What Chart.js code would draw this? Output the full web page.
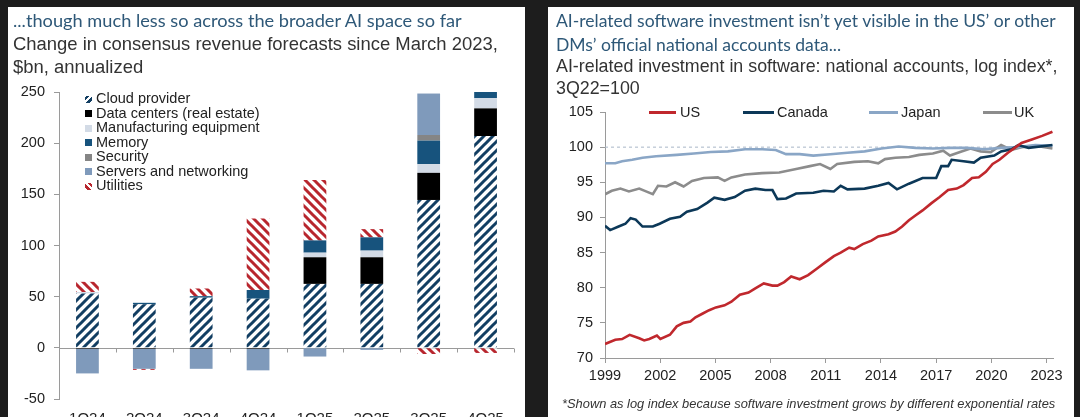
<!DOCTYPE html>
<html><head><meta charset="utf-8">
<script src="https://cdn.jsdelivr.net/npm/chart.js@4.4.1/dist/chart.umd.min.js"></script>
<style>
html,body{margin:0;padding:0;width:1080px;height:417px;overflow:hidden;background:#1d1d1d;}
.panel{position:absolute;background:#fff;}
#pl{left:8px;top:7px;width:517px;height:420px;}
#pr{left:548px;top:7px;width:526px;height:420px;}
.t{position:absolute;white-space:nowrap;line-height:1;}
.h{font-family:Lato,"Open Sans",sans-serif;color:#2e5878;}
.s{font-family:"Liberation Sans",Arial,sans-serif;color:#333;}
.f{font-family:"Liberation Sans",Arial,sans-serif;color:#333;font-style:italic;}
.lg{position:absolute;font-family:"Liberation Sans",Arial,sans-serif;font-size:14.5px;line-height:1;color:#222;white-space:nowrap;}
.mk{position:absolute;}
canvas{position:absolute;}
</style></head>
<body>
<div class="panel" id="pl"></div>
<div class="panel" id="pr"></div>
<canvas id="cl" width="517" height="417" style="left:8px;top:0px;width:517px;height:417px"></canvas>
<canvas id="cr" width="526" height="417" style="left:548px;top:0px;width:526px;height:417px"></canvas>
<div id="texts"></div>
<script>
// ---------- LEFT CHART DATA ----------
const quarters = ['1Q24','2Q24','3Q24','4Q24','1Q25','2Q25','3Q25','4Q25'];
const seriesNames = ['Cloud provider','Data centers (real estate)','Manufacturing equipment','Memory','Security','Servers and networking','Utilities'];
const cloudProvider = [53, 42.5, 49, 48, 62.5, 62.5, 144.5, 207];
const dataCenters   = [-1, -1, -1, -1, 26, 26, 26.5, 27];
const manufacturing = [1.5, 0, 0, 0, 4.5, 6.5, 8.5, 10];
const memory        = [0, 1.5, 1.5, 8.5, 12, 13, 23, 7];
const security      = [0, 0, 0, 0, 0, 0, 5.5, 0];
const servers       = [-24, -19.5, -19.5, -21, -8.5, -2, 40.5, 0];
const utilities     = [10, -1, 7.5, 70, 59, 8, -6, -5];
const leftTicks = [-50, 0, 50, 100, 150, 200, 250];

// ---------- RIGHT CHART DATA ([year, log index]) ----------
const usData = [[1999.00,72.0],[1999.56,72.6],[1999.93,72.7],[2000.34,73.3],[2000.86,72.8],[2001.13,72.5],[2001.41,72.7],[2001.82,73.2],[2002.01,72.7],[2002.53,73.3],[2002.90,74.5],[2003.27,75.0],[2003.64,75.2],[2003.92,75.8],[2004.29,76.3],[2004.66,76.8],[2005.03,77.2],[2005.50,77.5],[2005.87,78.0],[2006.33,79.0],[2006.80,79.3],[2007.17,79.9],[2007.63,80.6],[2008.10,80.3],[2008.37,80.3],[2008.74,80.8],[2009.12,81.6],[2009.58,81.2],[2010.04,81.8],[2010.51,82.7],[2010.97,83.6],[2011.44,84.5],[2011.81,85.0],[2012.27,85.7],[2012.55,85.5],[2013.01,86.2],[2013.48,86.7],[2013.85,87.3],[2014.41,87.6],[2014.78,88.0],[2015.15,88.7],[2015.52,89.6],[2015.89,90.3],[2016.26,91.0],[2016.73,92.0],[2017.19,92.9],[2017.65,93.9],[2018.12,94.1],[2018.49,94.6],[2018.95,95.6],[2019.32,95.7],[2019.70,96.5],[2020.07,97.6],[2020.44,98.2],[2020.90,99.2],[2021.27,99.9],[2021.64,100.6],[2022.20,101.1],[2022.76,101.6],[2023.32,102.2]];
const canadaData = [[1999.00,88.8],[1999.28,88.2],[1999.74,88.7],[2000.11,89.1],[2000.39,89.9],[2000.67,89.7],[2001.04,88.7],[2001.60,88.7],[2001.97,89.1],[2002.53,89.8],[2003.08,90.1],[2003.45,90.8],[2004.01,91.2],[2004.57,92.1],[2004.94,92.8],[2005.50,92.5],[2006.05,92.9],[2006.61,93.8],[2007.17,94.1],[2007.72,93.9],[2008.10,93.9],[2008.37,92.6],[2008.84,92.7],[2009.39,93.4],[2010.32,93.5],[2010.88,93.8],[2011.44,93.7],[2011.81,94.5],[2012.18,94.0],[2013.11,94.1],[2013.85,94.5],[2014.41,94.9],[2014.87,94.0],[2015.52,94.8],[2016.26,95.6],[2017.00,95.6],[2017.28,97.3],[2017.65,97.3],[2017.84,98.2],[2018.49,98.0],[2019.05,97.8],[2019.42,98.5],[2020.16,98.8],[2020.53,99.4],[2021.09,99.7],[2021.46,100.3],[2022.02,99.9],[2023.32,100.3]];
const japanData = [[1999.00,97.7],[1999.56,97.7],[1999.93,98.0],[2000.48,98.2],[2001.04,98.5],[2001.78,98.7],[2002.90,98.9],[2003.83,99.1],[2004.75,99.3],[2005.68,99.4],[2006.61,99.7],[2007.54,99.7],[2008.28,99.6],[2008.84,99.0],[2009.58,99.0],[2010.32,98.8],[2011.25,99.0],[2012.18,99.2],[2013.11,99.4],[2014.03,99.8],[2014.96,100.1],[2015.89,99.9],[2016.82,99.8],[2017.75,99.9],[2018.68,99.9],[2019.60,99.7],[2020.53,99.9],[2021.46,100.0],[2022.39,100.3],[2023.32,100.2]];
const ukData = [[1999.00,93.3],[1999.37,93.8],[1999.84,94.1],[2000.30,93.7],[2000.86,94.1],[2001.23,93.7],[2001.60,93.3],[2001.88,94.5],[2002.34,94.4],[2002.81,95.0],[2003.27,94.4],[2003.73,95.2],[2004.38,95.6],[2005.13,95.7],[2005.50,95.2],[2005.87,95.7],[2006.61,96.1],[2007.54,96.3],[2008.47,96.4],[2009.39,96.9],[2010.14,97.3],[2010.69,97.6],[2011.25,96.9],[2011.62,97.6],[2012.55,97.9],[2013.29,98.0],[2013.85,97.7],[2014.22,98.3],[2014.78,98.5],[2015.52,98.6],[2016.08,98.9],[2016.82,99.1],[2017.38,99.5],[2017.75,98.8],[2018.30,99.3],[2018.86,99.8],[2019.42,99.4],[2019.97,99.3],[2020.53,100.3],[2021.09,99.6],[2021.64,100.0],[2022.39,100.2],[2023.32,99.8]];
const baseLine = [[1999.00,100],[2023.32,100]];
const yearTicks = [1999, 2002, 2005, 2008, 2011, 2014, 2017, 2020, 2023];
const rightTicks = [70, 75, 80, 85, 90, 95, 100, 105];
const lineNames = ['US','Canada','Japan','UK'];

// ---------- STYLE ----------
const NAVY = '#123e62', RED = '#b8262e';
const colMemory = '#17537d', colServers = '#7f9abb', colManuf = '#d3dbe6', colSecurity = '#858585', colDC = '#000000';
const lineColors = ['#c0282d', '#0c3858', '#8aa6c6', '#8c8c8c'];
const SANS = '"Liberation Sans", Arial, sans-serif';

function hatch(ctx, color, forward) {
  const s = 9, c = document.createElement('canvas');
  c.width = c.height = s;
  const g = c.getContext('2d');
  g.fillStyle = '#fff'; g.fillRect(0, 0, s, s);
  g.strokeStyle = color; g.lineWidth = 3; g.beginPath();
  if (forward) { for (const k of [0, 1, 2]) { const cc = k * s; g.moveTo(-s, cc + s); g.lineTo(2 * s, cc - 2 * s); } }
  else { for (const k of [-1, 0, 1]) { const cc = k * s; g.moveTo(-s, cc - s); g.lineTo(2 * s, cc + 2 * s); } }
  g.stroke();
  return ctx.createPattern(c, 'repeat');
}

// ---------- TEXTS ----------
const texts = [
  {id:'lt1', cls:'h', x:13, cy:21, w:449, s:"...though much less so across the broader AI space so far"},
  {id:'ls1', cls:'s', x:13, cy:45, w:485, s:"Change in consensus revenue forecasts since March 2023,"},
  {id:'ls2', cls:'s', x:13, cy:68, ref:'ls1', s:"$bn, annualized"},
  {id:'rt1', cls:'h', x:556, cy:21, w:500, s:"AI-related software investment isn\u2019t yet visible in the US\u2019 or other"},
  {id:'rt2', cls:'h', x:556, cy:45, ref:'rt1', s:"DMs\u2019 official national accounts data..."},
  {id:'rs1', cls:'s', x:556, cy:68, w:502, s:"AI-related investment in software: national accounts, log index*,"},
  {id:'rs2', cls:'s', x:556, cy:90, ref:'rs1', s:"3Q22=100"},
  {id:'rf1', cls:'f', x:562, cy:405, w:494, s:"*Shown as log index because software investment grows by different exponential rates"}
];
const host = document.getElementById('texts');
const sizes = {};
for (const t of texts) {
  const el = document.createElement('div');
  el.className = 't ' + t.cls; el.textContent = t.s;
  el.style.left = t.x + 'px'; el.style.fontSize = '20px';
  host.appendChild(el);
  let fs;
  if (t.ref) fs = sizes[t.ref];
  else { const w = el.getBoundingClientRect().width; fs = 20 * t.w / w; }
  sizes[t.id] = fs;
  el.style.fontSize = fs + 'px';
  el.style.top = (t.cy - 0.54 * fs) + 'px';
}

// left legend (HTML)
const legendRowsY = [99, 113.5, 128, 142.5, 157, 171.5, 186];
const markerCss = [
  'background:repeating-linear-gradient(-45deg,#fff 0 2px,' + NAVY + ' 2px 4.5px)',
  'background:' + colDC, 'background:' + colManuf, 'background:' + colMemory,
  'background:' + colSecurity, 'background:' + colServers,
  'background:repeating-linear-gradient(45deg,#fff 0 2px,' + RED + ' 2px 4.5px)'
];
seriesNames.forEach((n, i) => {
  const m = document.createElement('div'); m.className = 'mk';
  m.style.cssText = 'left:85px;top:' + (legendRowsY[i] - 3.5) + 'px;width:7px;height:7px;' + markerCss[i];
  host.appendChild(m);
  const l = document.createElement('div'); l.className = 'lg'; l.textContent = n;
  l.style.left = '96px'; l.style.top = (legendRowsY[i] - 7.8) + 'px';
  host.appendChild(l);
});
// right legend (HTML)
const rLegX = [[649, 676, 680], [743, 774, 777], [869, 898, 901], [983, 1012, 1014]];
lineNames.forEach((n, i) => {
  const m = document.createElement('div'); m.className = 'mk';
  m.style.cssText = 'left:' + rLegX[i][0] + 'px;top:111px;width:' + (rLegX[i][1] - rLegX[i][0]) + 'px;height:3px;background:' + lineColors[i];
  host.appendChild(m);
  const l = document.createElement('div'); l.className = 'lg'; l.textContent = n;
  l.style.left = rLegX[i][2] + 'px'; l.style.top = (112.5 - 7.8) + 'px';
  host.appendChild(l);
});

// ---------- LEFT CHART ----------
const cl = document.getElementById('cl').getContext('2d');
const zeroAxis = {
  id: 'zeroAxis',
  beforeDatasetsDraw(chart) {
    const {ctx, chartArea, scales: {x, y}} = chart;
    const y0 = Math.round(y.getPixelForValue(0)) + 0.5;
    ctx.save(); ctx.strokeStyle = '#9a9a9a'; ctx.lineWidth = 1;
    ctx.beginPath(); ctx.moveTo(chartArea.left, y0); ctx.lineTo(chartArea.right, y0);
    const half = (x.getPixelForValue(1) - x.getPixelForValue(0)) / 2;
    for (let i = 0; i < quarters.length; i++) {
      const bx = Math.round(x.getPixelForValue(i) + half) + 0.5;
      ctx.moveTo(bx, y0); ctx.lineTo(bx, y0 + 4);
    }
    ctx.stroke(); ctx.restore();
  },
  afterDraw(chart) {
    // category labels, placed just below the plot (partly cut by the window edge, as in the original)
    const {ctx, chartArea, scales: {x}} = chart;
    ctx.save();
    ctx.font = '15px ' + SANS; ctx.fillStyle = '#222';
    ctx.textAlign = 'center'; ctx.textBaseline = 'middle';
    quarters.forEach((q, i) => ctx.fillText(q, x.getPixelForValue(i), chartArea.bottom + 20));
    ctx.restore();
  }
};
new Chart(cl, {
  type: 'bar',
  data: {
    labels: quarters,
    datasets: [
      {label: seriesNames[0], data: cloudProvider, backgroundColor: hatch(cl, NAVY, true)},
      {label: seriesNames[1], data: dataCenters, backgroundColor: colDC},
      {label: seriesNames[2], data: manufacturing, backgroundColor: colManuf},
      {label: seriesNames[3], data: memory, backgroundColor: colMemory},
      {label: seriesNames[4], data: security, backgroundColor: colSecurity},
      {label: seriesNames[5], data: servers, backgroundColor: colServers},
      {label: seriesNames[6], data: utilities, backgroundColor: hatch(cl, RED, false)}
    ]
  },
  options: {
    responsive: false, animation: false, devicePixelRatio: 1,
    layout: {padding: {top: 92, right: 11, left: 0, bottom: 0}},
    plugins: {legend: {display: false}, tooltip: {enabled: false}},
    datasets: {bar: {categoryPercentage: 1, barPercentage: 0.4, borderWidth: 0}},
    scales: {
      x: {stacked: true, grid: {display: false}, border: {display: false},
          ticks: {display: false},
          afterFit: s => { s.height = 18; }},
      y: {stacked: true, min: -50, max: 250,
          afterBuildTicks: s => { s.ticks = leftTicks.map(v => ({value: v})); },
          grid: {drawOnChartArea: false, tickLength: 5, color: '#9a9a9a'},
          border: {color: '#9a9a9a'},
          ticks: {font: {family: SANS, size: 14.5}, color: '#222', padding: 9},
          afterFit: s => { s.width = 51; }}
    }
  },
  plugins: [zeroAxis]
});

// ---------- RIGHT CHART ----------
const cr = document.getElementById('cr').getContext('2d');
const toXY = arr => arr.map(p => ({x: p[0], y: p[1]}));
const lineSeries = [usData, canadaData, japanData, ukData];
const ds = lineSeries.map((d, i) => ({
  label: lineNames[i], data: toXY(d), borderColor: lineColors[i], borderWidth: 2.6,
  pointRadius: 0, tension: 0, fill: false
}));
ds.push({label: 'base', data: toXY(baseLine), borderColor: '#a9b6c8', borderWidth: 1, borderDash: [3, 3], pointRadius: 0, fill: false});
new Chart(cr, {
  type: 'line',
  data: {datasets: ds},
  options: {
    responsive: false, animation: false, devicePixelRatio: 1,
    layout: {padding: {top: 112, right: 21, left: 0, bottom: 0}},
    plugins: {legend: {display: false}, tooltip: {enabled: false}},
    scales: {
      x: {type: 'linear', min: 1999, max: 2023.35,
          afterBuildTicks: s => { s.ticks = yearTicks.map(v => ({value: v})); },
          grid: {drawOnChartArea: false, tickLength: 5, color: '#9a9a9a'},
          border: {color: '#9a9a9a'},
          ticks: {font: {family: SANS, size: 14.5}, color: '#222', padding: 4, maxRotation: 0, callback: v => String(v)},
          afterFit: s => { s.height = 59; }},
      y: {min: 70, max: 105,
          afterBuildTicks: s => { s.ticks = rightTicks.map(v => ({value: v})); },
          grid: {drawOnChartArea: false, tickLength: 5, color: '#9a9a9a'},
          border: {color: '#9a9a9a'},
          ticks: {font: {family: SANS, size: 14.5}, color: '#222', padding: 7},
          afterFit: s => { s.width = 57; }}
    }
  }
});
</script>
</body></html>
